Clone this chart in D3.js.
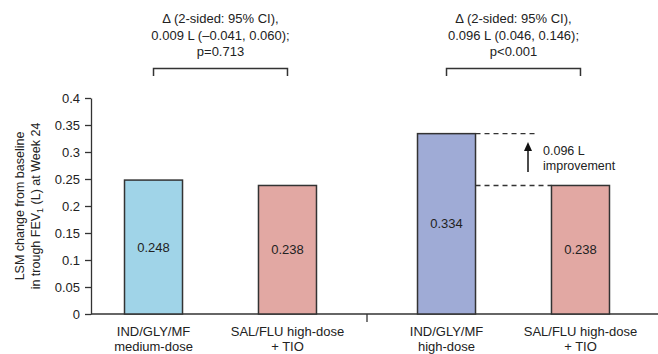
<!DOCTYPE html>
<meta charset="utf-8">
<style>
body { margin: 0; background: #fff; }
text { font-family: "Liberation Sans", Arial, sans-serif; fill: #222; }
.bar { stroke: #333; stroke-width: 1.5; }
.axis path, .axis line { stroke: #333; stroke-width: 1.3; }
.axis text { font-size: 13px; fill: #222; }
</style>
<body>
<div id="chart"></div>
<script src="https://d3js.org/d3.v7.min.js"></script>
<script>
var width = 658, height = 354;

// data
var groups = ["medium", "high"];
var treatments = ["IND/GLY/MF", "SAL/FLU high-dose + TIO"];
var catLabels = [["IND/GLY/MF", "medium-dose"], ["SAL/FLU high-dose", "+ TIO"], ["IND/GLY/MF", "high-dose"], ["SAL/FLU high-dose", "+ TIO"]];
var catGroup = ["medium", "medium", "high", "high"];
var catTreat = [treatments[0], treatments[1], treatments[0], treatments[1]];
var values = [0.248, 0.238, 0.334, 0.238];
var colors = ["#a0d4e8", "#e2a8a3", "#9fabd6", "#e2a8a3"];
var yTicks = [0, 0.05, 0.1, 0.15, 0.2, 0.25, 0.3, 0.35, 0.4];
var compText = [
  ["\u0394 (2-sided: 95% CI),", "0.009 L (\u20130.041, 0.060);", "p=0.713"],
  ["\u0394 (2-sided: 95% CI),", "0.096 L (0.046, 0.146);", "p<0.001"]
];
var diffLabel = ["0.096 L", "improvement"];

var svg = d3.select("#chart").append("svg")
    .attr("width", width)
    .attr("height", height);

var y = d3.scaleLinear().domain([0, 0.4]).range([314, 98]);

var x0 = d3.scaleBand().domain(groups).range([74, 660]);
var x1 = d3.scaleBand().domain(treatments).range([0, x0.bandwidth()])
    .paddingInner(0.567).paddingOuter(0.377);

function barX(i) { return x0(catGroup[i]) + x1(catTreat[i]); }
function barC(i) { return barX(i) + x1.bandwidth() / 2; }

// y axis
svg.append("g")
    .attr("class", "axis")
    .attr("transform", "translate(91,0)")
    .call(d3.axisLeft(y).tickValues(yTicks).tickSize(6).tickSizeOuter(0)
      .tickFormat(function(d) { return d3.format("")(+d.toFixed(2)); }))
    .selectAll("text").attr("dx", "-2");

// x axis line and group separator
svg.append("line")
    .attr("x1", 91).attr("x2", 658)
    .attr("y1", y(0)).attr("y2", y(0))
    .attr("stroke", "#333").attr("stroke-width", 1.3);
svg.append("line")
    .attr("x1", x0("high")).attr("x2", x0("high"))
    .attr("y1", y(0)).attr("y2", y(0) + 8)
    .attr("stroke", "#333").attr("stroke-width", 1.3);

// y title
var yt = svg.append("text")
    .attr("transform", "translate(24," + y(0.2) + ") rotate(-90)")
    .attr("text-anchor", "middle")
    .style("font-size", "12.5px");
yt.append("tspan").attr("x", 0).attr("dy", 0).text("LSM change from baseline");
var t2 = yt.append("tspan").attr("x", 0).attr("dy", 16).text("in trough FEV");
t2.append("tspan").attr("dy", 3).style("font-size", "9px").text("1");
t2.append("tspan").attr("dy", -3).text(" (L) at Week 24");

// bars
svg.selectAll("rect.bar")
  .data(values)
  .enter().append("rect")
    .attr("class", "bar")
    .attr("x", function(d, i) { return barX(i); })
    .attr("width", x1.bandwidth())
    .attr("y", function(d) { return y(d); })
    .attr("height", function(d) { return y(0) - y(d); })
    .attr("fill", function(d, i) { return colors[i]; });

svg.selectAll("text.val")
  .data(values)
  .enter().append("text")
    .attr("class", "val")
    .attr("x", function(d, i) { return barC(i); })
    .attr("y", function(d) { return (y(d) + y(0)) / 2 + 4.5; })
    .attr("text-anchor", "middle")
    .style("font-size", "13px")
    .text(function(d) { return d3.format(".3f")(d); });

// category labels
catLabels.forEach(function(lines, i) {
  var t = svg.append("text")
      .attr("text-anchor", "middle")
      .style("font-size", "13px");
  lines.forEach(function(l, j) {
    t.append("tspan").attr("x", barC(i)).attr("y", 336 + j * 15).text(l);
  });
});

// comparison brackets + text
groups.forEach(function(g, gi) {
  var a = barC(gi * 2), b = barC(gi * 2 + 1);
  svg.append("path")
      .attr("d", "M" + a + ",76V68.5H" + b + "V76")
      .attr("fill", "none")
      .attr("stroke", "#333")
      .attr("stroke-width", 1.5);
  var t = svg.append("text")
      .attr("text-anchor", "middle")
      .style("font-size", "13px");
  compText[gi].forEach(function(l, j) {
    t.append("tspan").attr("x", (a + b) / 2).attr("y", 23 + j * 16.5).text(l);
  });
});

// difference annotation
var right3 = barX(2) + x1.bandwidth();
var arrowX = 528;
svg.append("line")
    .attr("x1", right3).attr("x2", arrowX + 10)
    .attr("y1", y(values[2])).attr("y2", y(values[2]))
    .attr("stroke", "#333").attr("stroke-width", 1.3)
    .attr("stroke-dasharray", "5,4");
svg.append("line")
    .attr("x1", right3).attr("x2", barX(3))
    .attr("y1", y(values[3])).attr("y2", y(values[3]))
    .attr("stroke", "#333").attr("stroke-width", 1.3)
    .attr("stroke-dasharray", "5,4");
svg.append("line")
    .attr("x1", arrowX).attr("x2", arrowX)
    .attr("y1", 172).attr("y2", 150)
    .attr("stroke", "#111").attr("stroke-width", 1.5);
svg.append("path")
    .attr("d", "M" + (arrowX - 4) + ",151L" + arrowX + ",142L" + (arrowX + 4) + ",151Z")
    .attr("fill", "#111");
var dt = svg.append("text").style("font-size", "12.5px");
diffLabel.forEach(function(l, j) {
  dt.append("tspan").attr("x", 543).attr("y", 155 + j * 15).text(l);
});
</script>
</body>
